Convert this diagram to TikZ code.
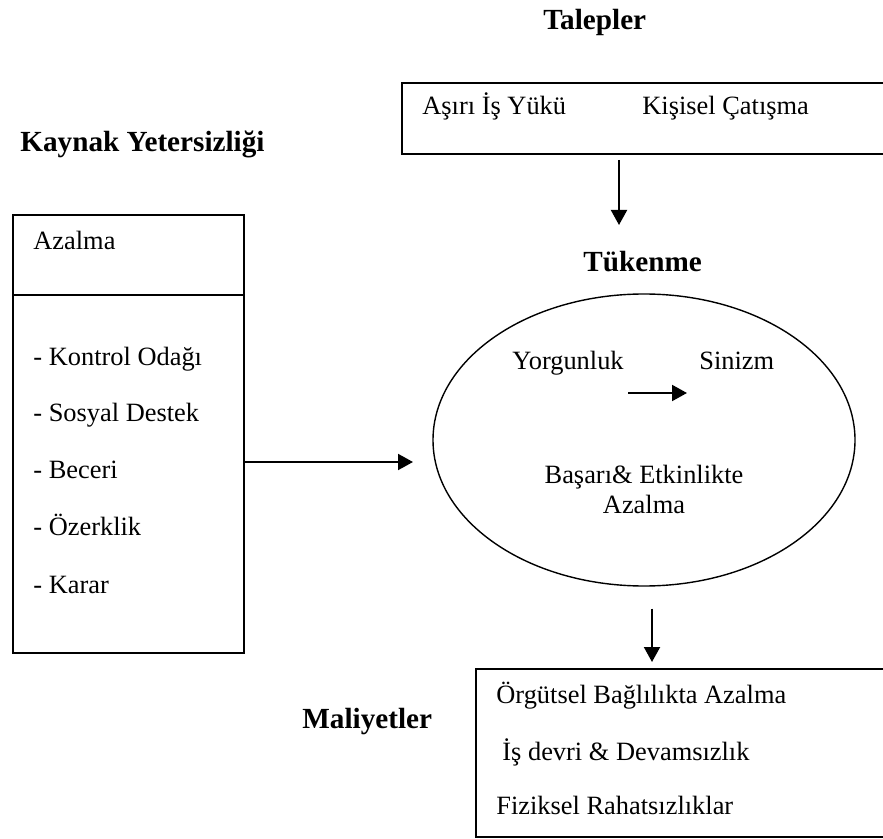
\documentclass[tikz,border=0pt]{standalone}
\usepackage{fontspec}
\setmainfont{Liberation Serif}
\usetikzlibrary{arrows.meta,shapes.geometric}

\begin{document}
\begin{tikzpicture}[x=0.5pt,y=-0.5pt,
  txt/.style={font=\fontsize{13.2}{16}\selectfont, inner sep=0pt, anchor=base west},
  ttl/.style={font=\fontsize{14.6}{17}\selectfont\bfseries, inner sep=0pt, anchor=base west},
  box/.style={draw, line width=1pt, inner sep=0pt, anchor=north west},
  arr/.style={line width=1pt, -{Triangle[length=7.5pt,width=8pt]}}]
\useasboundingbox (0,0) rectangle (883,839);
\clip (0,0) rectangle (883,839);

% headings
\node[ttl] (talepler) at (543,30) {Talepler};
\node[ttl] (kaynak) at (20,152) {Kaynak Yetersizliği};
\node[ttl] (tukenme) at (583,272) {Tükenme};
\node[ttl] (maliyet) at (302,728) {Maliyetler};

% demands box (open to the right)
\node[box, minimum width=250pt, minimum height=35.5pt] (tbox) at (401,82) {};
\node[txt] (asiri) at (422,115) {Aşırı İş Yükü};
\node[txt] (kisisel) at (642,115) {Kişisel Çatışma};

% resources box
\node[box, minimum width=115.5pt, minimum height=40pt] (lboxtop) at (12,214) {};
\node[box, minimum width=115.5pt, minimum height=179pt] (lboxbot) at (12,294) {};
\node[txt] (azalma) at (33,250) {Azalma};
\node[txt] (r1) at (33,365) {- Kontrol Odağı};
\node[txt] (r2) at (33,422) {- Sosyal Destek};
\node[txt] (r3) at (33,478) {- Beceri};
\node[txt] (r4) at (33,535) {- Özerklik};
\node[txt] (r5) at (33,593) {- Karar};

% burnout ellipse
\node[draw, ellipse, line width=0.7pt, minimum width=211pt, minimum height=146pt, inner sep=0pt] (tuk) at (644,440) {};
\node[txt] (yorg) at (512,370) {Yorgunluk};
\node[txt] (siniz) at (699,370) {Sinizm};
\node[txt, anchor=base] (basari) at (644,483) {Başarı\& Etkinlikte};
\node[txt, anchor=base] (bazal) at (644,513) {Azalma};

% costs box (open to the right)
\node[box, minimum width=215pt, minimum height=84pt] (bbox) at (475,668) {};
\node[txt] (c1) at (496,703) {Örgütsel Bağlılıkta Azalma};
\node[txt] (c2) at (502,760) {İş devri \& Devamsızlık};
\node[txt] (c3) at (496,814) {Fiziksel Rahatsızlıklar};

% arrow ends
\coordinate (tin) at (619,225);
\coordinate (ain) at (413,462);
\coordinate (bin) at (652,662);
\coordinate (ya) at (628,393);
\coordinate (yb) at (687,393);

% connectors
\draw[arr, shorten <=2.5pt] (tbox.south -| tin) -- (tin);
\draw[arr] (lboxbot.east |- ain) -- (ain);
\draw[arr, shorten <=11pt] (tuk.south -| bin) -- (bin);
\draw[arr] (ya) -- (yb);
\end{tikzpicture}
\end{document}
